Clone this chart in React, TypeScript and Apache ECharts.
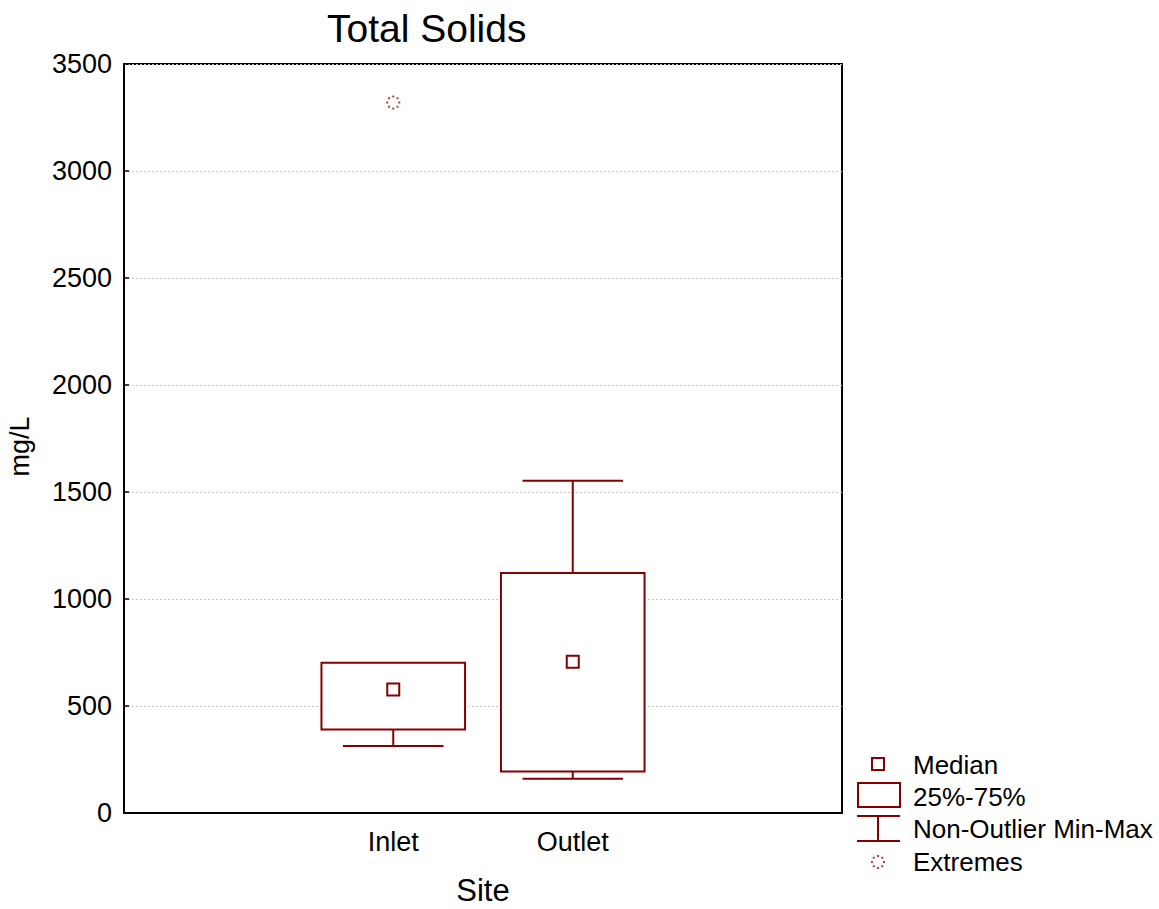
import React, { useEffect, useRef } from "react";
import * as echarts from "echarts";

const categories = ["", "Inlet", "Outlet", ""];
// [categoryIndex, nonOutlierMin, q25, median, q75, nonOutlierMax]
const boxStats = [
  [1, 313, 390, 577, 702, 702],
  [2, 160, 194, 707, 1122, 1553],
];
// [categoryIndex, value]
const extremes = [[1, 3320]];
const yTicks = { min: 0, max: 3500, interval: 500 };
const legendItems = ["Median", "25%-75%", "Non-Outlier Min-Max", "Extremes"];

const RED = "#850000";
const FONT = "Liberation Sans, Arial, sans-serif";

function dotsCircle(cx: number, cy: number, r: number, color: string) {
  const children: any[] = [];
  for (let i = 0; i < 8; i++) {
    const a = (i * Math.PI) / 4;
    children.push({
      type: "rect",
      shape: { x: cx + r * Math.cos(a) - 1, y: cy + r * Math.sin(a) - 1, width: 2, height: 2 },
      style: { fill: color },
    });
  }
  return children;
}

export default function App() {
  const ref = useRef<HTMLDivElement>(null);
  useEffect(() => {
    const chart = echarts.init(ref.current!, null, { renderer: "svg" });
    const option: any = {
      animation: false,
      backgroundColor: "#fff",
      title: {
        text: "Total Solids",
        left: 322,
        top: 4,
        textStyle: { fontFamily: FONT, fontSize: 39, fontWeight: "normal", color: "#000" },
      },
      grid: {
        left: 124,
        top: 64,
        width: 718,
        height: 749,
        outerBoundsMode: "none",
        containLabel: false,
        show: true,
        borderColor: "#000",
        borderWidth: 2,
        backgroundColor: "transparent",
      },
      xAxis: {
        type: "category",
        data: categories,
        boundaryGap: true,
        name: "Site",
        nameLocation: "middle",
        nameGap: 62,
        nameTextStyle: { fontFamily: FONT, fontSize: 31, color: "#000" },
        axisLine: { lineStyle: { color: "#000", width: 2 } },
        axisTick: { inside: true, alignWithLabel: true, length: 6, lineStyle: { color: "#000", width: 1.5 } },
        axisLabel: { fontFamily: FONT, fontSize: 27, color: "#000", margin: 15 },
        splitLine: { show: false },
      },
      yAxis: {
        type: "value",
        min: yTicks.min,
        max: yTicks.max,
        interval: yTicks.interval,
        name: "mg/L",
        nameLocation: "middle",
        nameGap: 91,
        nameTextStyle: { fontFamily: FONT, fontSize: 27, color: "#000", padding: [0, 16, 0, 0] },
        axisLine: { show: true, lineStyle: { color: "#000", width: 2 } },
        axisTick: { show: true, inside: true, length: 5, lineStyle: { color: "#000", width: 1.5 } },
        axisLabel: {
          fontFamily: FONT,
          fontSize: 27,
          color: "#000",
          margin: 12,
          formatter: (v: number) => String(v),
        },
        splitLine: { show: true, lineStyle: { color: "#c8c8c8", width: 1, type: [2, 2] } },
      },
      series: [
        {
          type: "custom",
          data: boxStats,
          encode: { x: 0, y: [1, 2, 3, 4, 5] },
          z: 5,
          renderItem: (params: any, api: any) => {
            const c = api.value(0);
            const mn = api.coord([c, api.value(1)]);
            const q1 = api.coord([c, api.value(2)]);
            const md = api.coord([c, api.value(3)]);
            const q3 = api.coord([c, api.value(4)]);
            const mx = api.coord([c, api.value(5)]);
            const band = api.size([1, 0])[0];
            const bw = band * 0.8;
            const cw = band * 0.56;
            const x = q1[0];
            const ls = { stroke: RED, lineWidth: 2, fill: null };
            const children: any[] = [
              {
                type: "rect",
                shape: { x: x - bw / 2, y: q3[1], width: bw, height: q1[1] - q3[1] },
                style: { stroke: RED, lineWidth: 2, fill: "#fff" },
              },
              {
                type: "rect",
                shape: { x: x - 6, y: md[1] - 6, width: 12, height: 12 },
                style: { stroke: RED, lineWidth: 2, fill: "#fff" },
              },
            ];
            if (api.value(1) < api.value(2)) {
              children.push({ type: "line", shape: { x1: x, y1: q1[1], x2: x, y2: mn[1] }, style: ls });
              children.push({ type: "line", shape: { x1: x - cw / 2, y1: mn[1], x2: x + cw / 2, y2: mn[1] }, style: ls });
            }
            if (api.value(5) > api.value(4)) {
              children.push({ type: "line", shape: { x1: x, y1: q3[1], x2: x, y2: mx[1] }, style: ls });
              children.push({ type: "line", shape: { x1: x - cw / 2, y1: mx[1], x2: x + cw / 2, y2: mx[1] }, style: ls });
            }
            return { type: "group", children };
          },
        },
        {
          type: "custom",
          data: extremes,
          encode: { x: 0, y: 1 },
          z: 6,
          renderItem: (params: any, api: any) => {
            const p = api.coord([api.value(0), api.value(1)]);
            return { type: "group", children: dotsCircle(p[0], p[1], 6, "#b04040") };
          },
        },
      ],
      graphic: [
        {
          type: "rect",
          shape: { x: 872, y: 758, width: 12, height: 12 },
          style: { stroke: RED, lineWidth: 2, fill: "#fff" },
        },
        {
          type: "rect",
          shape: { x: 858, y: 783, width: 42, height: 24 },
          style: { stroke: RED, lineWidth: 2, fill: "#fff" },
        },
        { type: "line", shape: { x1: 857, y1: 816, x2: 900, y2: 816 }, style: { stroke: RED, lineWidth: 2 } },
        { type: "line", shape: { x1: 878, y1: 816, x2: 878, y2: 841 }, style: { stroke: RED, lineWidth: 2 } },
        { type: "line", shape: { x1: 857, y1: 841, x2: 900, y2: 841 }, style: { stroke: RED, lineWidth: 2 } },
        { type: "group", children: dotsCircle(878, 862, 6, "#b04040") },
        ...legendItems.map((t, i) => ({
          type: "text",
          x: 913,
          y: [765, 797, 829, 862][i],
          style: {
            text: t,
            fontFamily: FONT,
            fontSize: 26,
            fill: "#000",
            verticalAlign: "middle",
          },
        })),
      ],
    };
    chart.setOption(option);
    return () => chart.dispose();
  }, []);
  return (
    <div
      ref={ref}
      style={{ position: "fixed", left: 0, top: 0, width: 1159, height: 909, background: "#fff" }}
    />
  );
}
